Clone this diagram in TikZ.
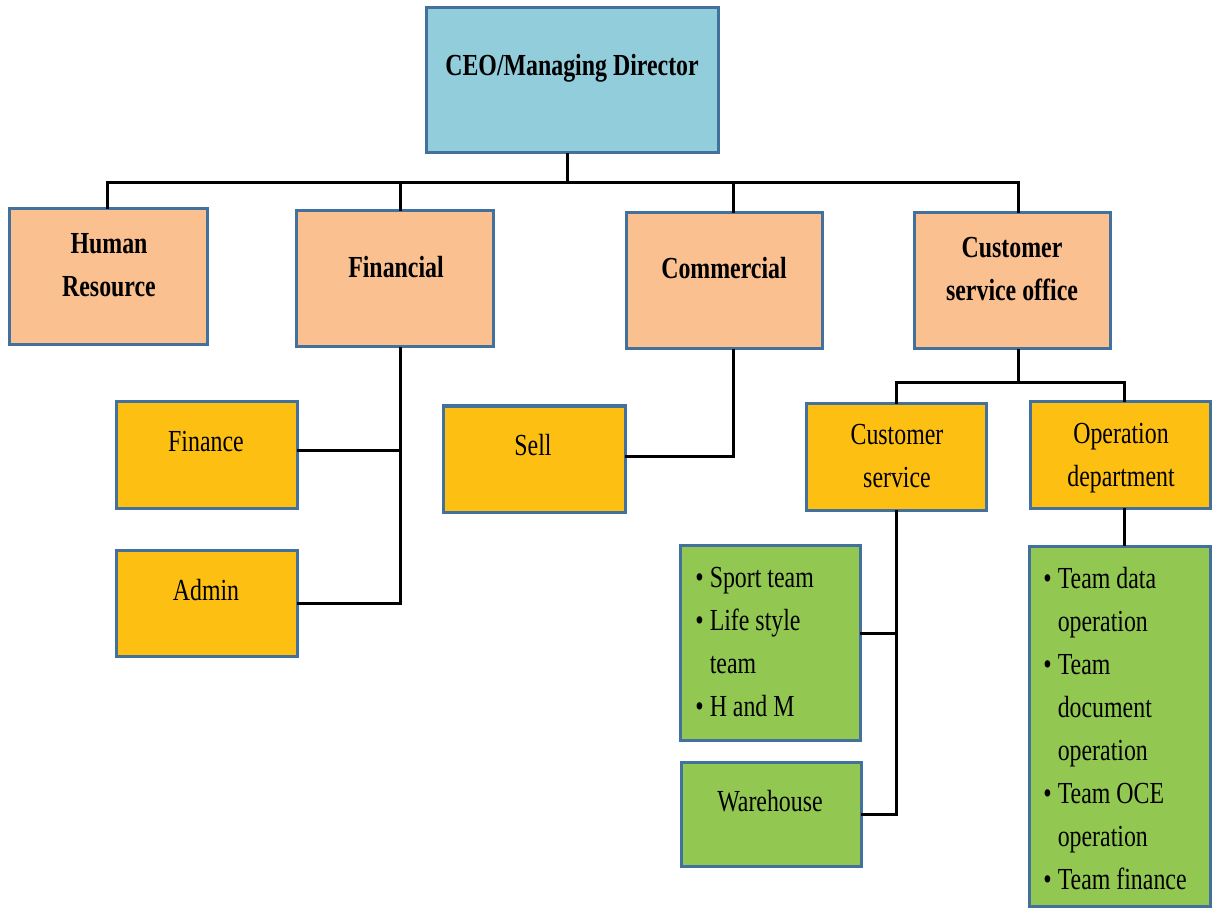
\documentclass[tikz,border=0pt]{standalone}
\usepackage{fontspec}
\setmainfont{Liberation Serif}[FakeStretch=0.78]
\definecolor{bordc}{HTML}{41719C}
\definecolor{ceofill}{HTML}{92CDDC}
\definecolor{peach}{HTML}{FAC090}
\definecolor{amber}{HTML}{FCBF12}
\definecolor{grn}{HTML}{92C851}
\tikzset{
  box/.style={draw=bordc, line width=1.5pt, inner sep=0pt, outer sep=0pt},
  ceobox/.style={box, fill=ceofill},
  lvlone/.style={box, fill=peach},
  lvltwo/.style={box, fill=amber},
  lvlthree/.style={box, fill=grn},
  txt/.style={inner sep=0pt, align=center, font=\fontsize{15.3}{21.5}\selectfont},
  btxt/.style={txt, font=\fontsize{15.3}{21.5}\selectfont\bfseries},
  conn/.style={draw=black, line width=1.5pt},
}
\begin{document}
\begin{tikzpicture}[x=0.5pt, y=-0.5pt]
\useasboundingbox (0,0) rectangle (1213,908);
% boxes
\node[ceobox, minimum width=146pt, minimum height=72.5pt] (ceo) at (572,80.5) {};
\node[lvlone, minimum width=99pt, minimum height=68pt] (hr) at (108,277) {};
\node[lvlone, minimum width=98.5pt, minimum height=68pt] (fin) at (394.5,279) {};
\node[lvlone, minimum width=98pt, minimum height=68pt] (com) at (724,281) {};
\node[lvlone, minimum width=98pt, minimum height=68pt] (cso) at (1012,281) {};
\node[lvltwo, minimum width=90.5pt, minimum height=53pt] (finance) at (206.5,455) {};
\node[lvltwo, minimum width=90.5pt, minimum height=53pt] (admin) at (206.5,603) {};
\node[lvltwo, minimum width=91pt, minimum height=53pt] (sell) at (534,459) {};
\node[lvltwo, minimum width=90pt, minimum height=53pt] (cs) at (896,457) {};
\node[lvltwo, minimum width=90pt, minimum height=53pt] (op) at (1120,455) {};
\node[lvlthree, minimum width=90pt, minimum height=97.5pt] (teams) at (770,642.5) {};
\node[lvlthree, minimum width=90pt, minimum height=52pt] (wh) at (771,814) {};
\node[lvlthree, minimum width=90.5pt, minimum height=180pt] (opteams) at (1119.5,726) {};
% texts
\node[btxt] (tceo) at (572,68) {CEO/Managing Director};
\node[btxt] (thr) at (109,265) {Human\\Resource};
\node[btxt] (tfin) at (396,267) {Financial};
\node[btxt] (tcom) at (724,268) {Commercial};
\node[btxt] (tcso) at (1012,269) {Customer\\service office};
\node[txt] (tfinance) at (206,442) {Finance};
\node[txt] (tadmin) at (206,590) {Admin};
\node[txt] (tsell) at (533,445) {Sell};
\node[txt] (tcs) at (897,456) {Customer\\service};
\node[txt] (top) at (1121,458) {Operation\\department};
\node[txt] (twh) at (770,801) {Warehouse};
\node[txt, anchor=west] (tteams) at (695,643) {%
  \begin{tabular}{@{}l@{\hspace{3pt}}l@{}}
  \textbullet & Sport team\\
  \textbullet & Life style\\
   & team\\
  \textbullet & H and M
  \end{tabular}};
\node[txt, anchor=west] (topteams) at (1043,730) {%
  \begin{tabular}{@{}l@{\hspace{3pt}}l@{}}
  \textbullet & Team data\\
   & operation\\
  \textbullet & Team\\
   & document\\
   & operation\\
  \textbullet & Team OCE\\
   & operation\\
  \textbullet & Team finance
  \end{tabular}};
% connectors
\coordinate (bus) at (567,183);
\coordinate (bus2) at (1018,383);
\draw[conn] (ceo.south -| bus) -- (bus);
\draw[conn] ([xshift=-0.5pt]hr.north) |- ([xshift=3pt]cso.north |- bus) -- ([xshift=3pt]cso.north);
\draw[conn] ([xshift=3pt]fin.north) -- ([xshift=3pt]fin.north |- bus);
\draw[conn] ([xshift=4.5pt]com.north) -- ([xshift=4.5pt]com.north |- bus);
\draw[conn] ([xshift=3pt]fin.south) |- (admin.east);
\draw[conn] ([yshift=2.5pt]finance.east) -- ([yshift=2.5pt,xshift=3pt]finance.east -| fin.south);
\draw[conn] ([xshift=4.5pt]com.south) |- ([yshift=1.5pt]sell.east);
\draw[conn] (cso.south -| bus2) -- (bus2);
\draw[conn] (cs.north) |- ([xshift=2pt]op.north |- bus2) -- ([xshift=2pt]op.north);
\draw[conn] (cs.south) |- (wh.east);
\draw[conn] ([yshift=4.5pt]teams.east) -- ([yshift=4.5pt]teams.east -| cs.south);
\draw[conn] ([xshift=2.25pt]op.south) -- ([xshift=2.25pt]op.south |- opteams.north);
\end{tikzpicture}
\end{document}
